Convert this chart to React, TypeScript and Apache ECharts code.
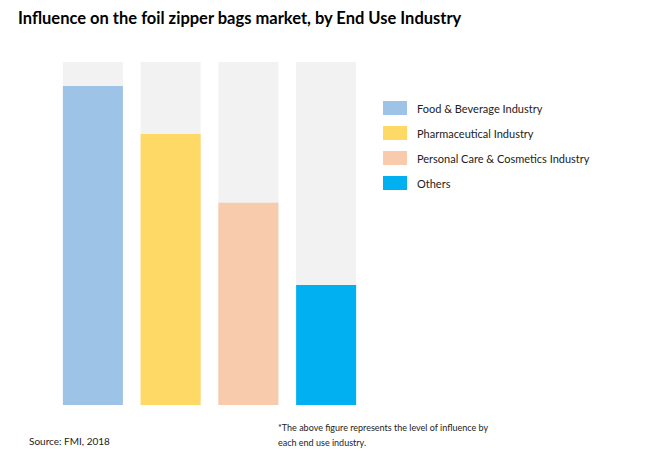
import React, { useEffect, useRef } from "react";
import * as echarts from "echarts";

const categories = ["Food & Beverage Industry", "Pharmaceutical Industry", "Personal Care & Cosmetics Industry", "Others"];
const influence = [93, 79, 59, 35];
const colors = ["#9dc3e6", "#ffd966", "#f8cbad", "#00b0f0"];
const titleText = "Influence on the foil zipper bags market, by End Use Industry";
const sourceText = "Source: FMI, 2018";
const noteLines = ["*The above figure represents the level of influence by", "each end use industry."];

export default function App() {
  const ref = useRef<HTMLDivElement>(null);
  useEffect(() => {
    const chart = echarts.init(ref.current!, null, { renderer: "svg" });
    const font = "Lato, 'Open Sans', sans-serif";
    const series = categories.map((name, i) => ({
      name,
      type: "bar",
      barWidth: 60,
      barGap: "-100%",
      itemStyle: { color: colors[i] },
      showBackground: i === 0,
      backgroundStyle: { color: "#f2f2f2" },
      data: categories.map((_, j) => (j === i ? influence[i] : "-")),
    }));
    chart.setOption({
      animation: false,
      backgroundColor: "#ffffff",
      title: {
        text: titleText,
        left: 10,
        top: 1,
        padding: 0,
        textStyle: { fontFamily: font, fontSize: 16.5, fontWeight: "bold", color: "#000000" },
      },
      grid: { left: 46, width: 311, top: 54, bottom: 72 },
      xAxis: {
        type: "category",
        data: categories,
        axisLine: { show: false },
        axisTick: { show: false },
        axisLabel: { show: false },
      },
      yAxis: {
        type: "value",
        min: 0,
        max: 100,
        show: false,
        splitLine: { show: false },
      },
      legend: {
        orient: "vertical",
        left: 370,
        top: 88,
        itemWidth: 24,
        itemHeight: 14,
        itemGap: 11,
        icon: "rect",
        data: categories,
        textStyle: { fontFamily: font, fontSize: 11, color: "#222222", padding: [0, 0, 0, 5] },
      },
      graphic: [
        {
          type: "text",
          left: 21,
          top: 428,
          style: { text: sourceText, font: `10px ${font}`, fill: "#222222" },
        },
        {
          type: "text",
          left: 270,
          top: 412,
          style: { text: noteLines.join("\n"), font: `9px ${font}`, fill: "#222222", lineHeight: 15 },
        },
      ],
      series,
    });
    return () => chart.dispose();
  }, []);
  return <div ref={ref} style={{ width: 650, height: 469 }} />;
}
